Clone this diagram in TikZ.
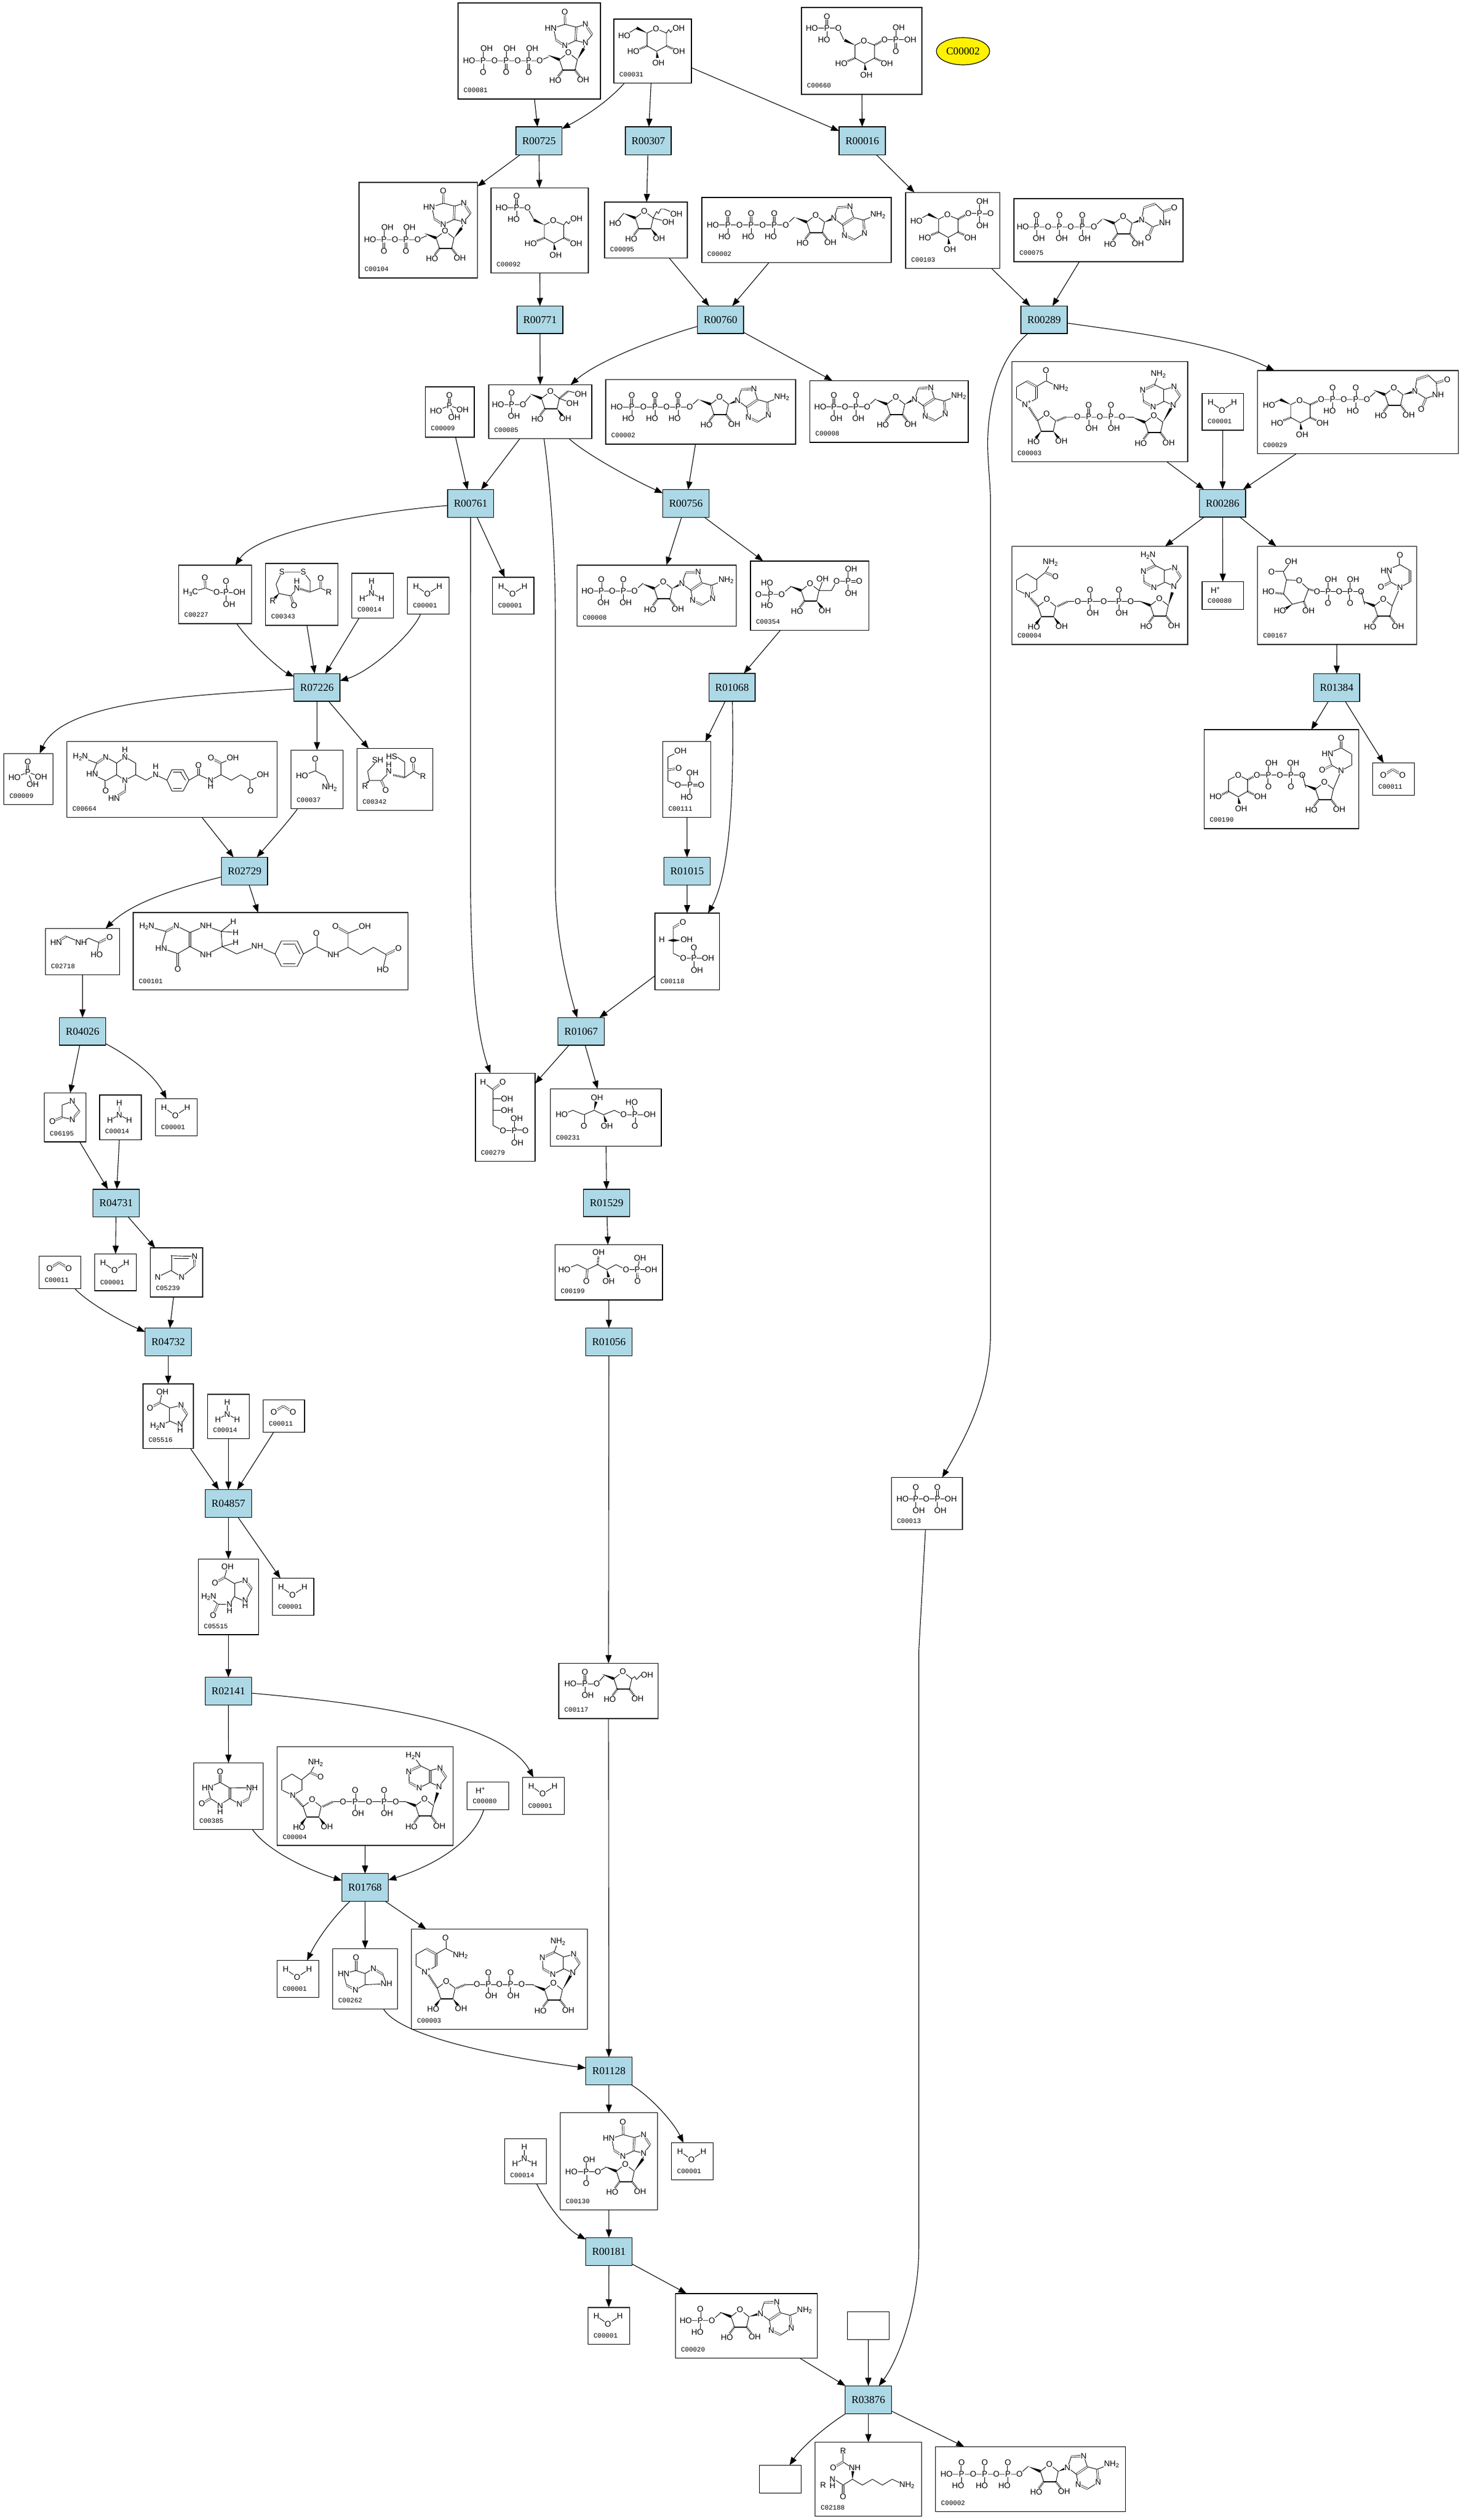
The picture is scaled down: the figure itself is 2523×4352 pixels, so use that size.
\documentclass[tikz,border=0pt]{standalone}
\usepackage{fontspec}
\setmainfont{Liberation Sans}
\newfontfamily\rfont{Liberation Serif}
\newfontfamily\lfont{Liberation Mono}
\usetikzlibrary{calc,arrows.meta,shapes.geometric}
\definecolor{lb}{HTML}{ADD8E6}
\tikzset{
 atom/.style={inner sep=0.4pt,outer sep=0pt,fill=white,font=\fontsize{14}{14}\selectfont,text=black},
 bond/.style={line width=0.9pt,line cap=round,line join=round},
 dbond/.style={line width=0.7pt,double,double distance=2pt},
 hash/.style={line width=3.5pt,dash pattern=on 1pt off 1.5pt},
 cbox/.style={draw=black,fill=white,line width=1.5pt,inner sep=0pt,outer sep=0pt},
 rbox/.style={draw=black,fill=lb,line width=1.5pt,inner sep=0pt,outer sep=0pt,font=\rfont\fontsize{18.3}{20}\selectfont},
 lab/.style={anchor=west,inner sep=0pt,font=\lfont\fontsize{11.5}{12}\selectfont},
 arr/.style={line width=1.1pt,-{Triangle[length=14pt,width=10.5pt]}}
}
\newcount\atc
\newcommand\At[3]{\global\advance\atc by 1\relax\node[atom] (m\the\atc) at (#1,#2) {#3};}
\newcommand\Bd[1]{\draw[bond] #1;}
\newcommand\Db[1]{\draw[dbond] #1;}
\newcommand\Wd[4]{\fill (#1,#2) -- ($(#3,#4)!2.5pt!90:(#1,#2)$) -- ($(#3,#4)!2.5pt!-90:(#1,#2)$) -- cycle;}
\newcommand\Hs[4]{\draw[hash] (#1,#2) -- (#3,#4);}
\newcommand\Sb[1]{\raisebox{-2.5pt}{\fontsize{10}{10}\selectfont #1}}
\newcommand\NHt{NH\Sb{2}}
\newcommand\Cmp[7]{\node[cbox,minimum width={(#4-#2)*1pt},minimum height={(#5-#3)*1pt}] (#1) at ({(#2+#4)/2},{(#3+#5)/2}) {};
 \begin{scope}[shift={(#2,#3)}]#7
 \global\advance\atc by 1\relax\node[lab] (l\the\atc) at (9.5,{#5-#3-15}) {#6};\end{scope}}
\newcommand\Rn[6]{\node[rbox,minimum width={(#4-#2)*1pt},minimum height={(#5-#3)*1pt}] (#1) at ({(#2+#4)/2},{(#3+#5)/2}) {#6};}
\newcommand\Blank[5]{\node[cbox,minimum width={(#4-#2)*1pt},minimum height={(#5-#3)*1pt}] (#1) at ({(#2+#4)/2},{(#3+#5)/2}) {};}
% phosphate with =O up
\newcommand\PP[4]{\begin{scope}[shift={(#1,#2)}]\Bd{(0,0)--(0,17)}\Db{(0,0)--(0,-20)}\At{0}{0}{P}\At{0}{-20}{O}\At{#4}{20}{#3}\end{scope}}
% phosphate with OH up, =O down
\newcommand\PQ[4]{\begin{scope}[shift={(#1,#2)}]\Bd{(0,0)--(0,-17)}\Db{(0,0)--(0,20)}\At{0}{0}{P}\At{0}{20}{O}\At{#4}{-21}{#3}\end{scope}}
% phosphate with up, =O right, down
\newcommand\PR[6]{\begin{scope}[shift={(#1,#2)}]\Bd{(0,0)--(0,-17)}\Bd{(0,0)--(0,17)}\Db{(0,0)--(19,0)}\At{0}{0}{P}\At{19}{0}{O}\At{#4}{-21}{#3}\At{#6}{21}{#5}\end{scope}}
\newcommand\RibCore[4]{\begin{scope}[shift={(#1,#2)}]
 \Bd{(0,0)--(15.5,-12)--(31,0)--(27,18)}\Bd{(6,18)--(0,0)}\draw[line width=2pt](6,18)--(27,18);
 #3{6}{18}{-3}{30}#4{27}{18}{36}{30}
 \At{15.5}{-12}{O}\At{-7}{36}{HO}\At{41}{35}{OH}\end{scope}}
\newcommand\Rib[4]{\begin{scope}[shift={(#1,#2)}]\Wd{-20}{-8}{0}{0}\end{scope}\RibCore{#1}{#2}{#3}{#4}}
\newcommand\Ade[2]{\begin{scope}[shift={(#1,#2)}]
 \Bd{(0,0)--(6.4,-19)}\Db{(6.4,-19)--(28,-20)}\Bd{(28,-20)--(34.4,-1.3)--(51,3)}\Db{(34.4,-1.3)--(15.3,11.5)}\Bd{(15.3,11.5)--(0,0)}
 \Db{(51,3)--(53,25.5)}\Bd{(53,25.5)--(35,37)}\Db{(35,37)--(18.5,29.3)}\Bd{(18.5,29.3)--(15.3,11.5)}\Bd{(51,3)--(72,-5)}
 \At{0}{0}{N}\At{28}{-20}{N}\At{53}{25.5}{N}\At{18.5}{29.3}{N}\At{76}{-6}{\NHt}\end{scope}}
\newcommand\AdeInv[5]{\begin{scope}[shift={(#1,#2)}]
 \Bd{(0,0)--(12.2,-15.8)}\Db{(12.2,-15.8)--(1.6,-32)}\Bd{(1.6,-32)--(-15.4,-27.5)}\Db{(-15.4,-27.5)--(-15.4,-7)}\Bd{(-15.4,-7)--(0,0)}
 \Bd{(-15.4,-7)--(-34.4,2.5)}\Db{(-34.4,2.5)--(-51.4,-7)}\Bd{(-51.4,-7)--(-52.4,-26)}\Db{(-52.4,-26)--(-32,-35.7)}\Bd{(-32,-35.7)--(-15.4,-27.5)}\Bd{(-32,-35.7)--(#3,#4)}
 \At{0}{0}{N}\At{1.6}{-32}{N}\At{-34.4}{2.5}{N}\At{-52.4}{-26}{N}\At{#3}{#4}{#5}\end{scope}}
\newcommand\Hyp[2]{\begin{scope}[shift={(#1,#2)}]
 \Bd{(0,0)--(11.7,-14)}\Db{(11.7,-14)--(0,-32)}\Bd{(0,-32)--(-16,-27)}\Db{(-16,-27)--(-17,-4)}\Bd{(-17,-4)--(0,0)}\Bd{(-16,-27)--(-35.2,-32)}
 \Db{(-35.2,-32)--(-35.7,-53.7)}\Bd{(-35.2,-32)--(-55,-25.6)--(-51,-5)}\Db{(-51,-5)--(-35.7,5)}\Bd{(-35.7,5)--(-17,-4)}
 \At{0}{0}{N}\At{0}{-32}{N}\At{-35.7}{-53.7}{O}\At{-60}{-25.6}{HN}\At{-35.7}{5}{N}\end{scope}}
\newcommand\Ura[2]{\begin{scope}[shift={(#1,#2)}]
 \Bd{(0,0)--(3.3,-21)}\Db{(3.3,-21)--(23.3,-27.7)}\Bd{(23.3,-27.7)--(37.3,-14.7)}\Db{(37.3,-14.7)--(56,-20.7)}\Bd{(37.3,-14.7)--(38.3,5.3)--(19,12)--(0,0)}\Db{(19,12)--(11,31)}
 \At{0}{0}{N}\At{56}{-20.7}{O}\At{40}{5.3}{NH}\At{11}{31}{O}\end{scope}}
\newcommand\Hexb[2]{\begin{scope}[shift={(#1,#2)}]
 \Bd{(0,0)--(15.3,-7.5)--(33.6,0)--(33.6,22.3)--(16.6,31.5)--(0,22.3)--cycle}
 \Hs{0}{22.3}{-14}{28}\Hs{33.6}{22.3}{46}{28}\Wd{16.6}{31.5}{18}{43}
 \At{15.3}{-7.5}{O}\At{-23.6}{32}{HO}\At{55}{32}{OH}\At{19.6}{52}{OH}\end{scope}}
\newcommand\Hexa[2]{\begin{scope}[shift={(#1,#2)}]\Wd{0}{0}{-18}{-8.7}\end{scope}\Hexb{#1}{#2}}
% ---- small molecules
\newcommand\MW{\Bd{(14.7,15.3)--(34.4,28.7)--(55,15.3)}\At{14.7}{15.3}{H}\At{34.4}{28.7}{O}\At{55}{15.3}{H}}
\newcommand\MN{\Bd{(34,14)--(34,34.4)--(18,43.4)}\Bd{(34,34.4)--(51,43.4)}\At{34}{14}{H}\At{34}{34.4}{N}\At{18}{43.4}{H}\At{51}{43.4}{H}}
\newcommand\MCO{\Db{(18,21)--(34.4,11)}\Db{(34.4,11)--(51,21)}\At{18}{21}{O}\At{51}{21}{O}}
\newcommand\MH{\At{23}{14.7}{H\textsuperscript{+}}}
\newcommand\MPi{\Db{(41.5,32.5)--(41.5,14.7)}\Bd{(18.5,41.5)--(41.5,32.5)--(64.3,40)}\Bd{(41.5,32.5)--(50,53)}\At{41.5}{32.5}{P}\At{41.5}{14.7}{O}\At{18.5}{41.5}{HO}\At{64.3}{40}{OH}\At{50}{53}{OH}}
% ---- nucleotides
\newcommand\MATP{\Bd{(19,47.5)--(145,47.5)--(160,34)}\PP{45}{47.5}{HO}{-6}\PP{85}{47.5}{HO}{-5}\PP{125}{47.5}{HO}{-6}\At{19}{47.5}{HO}\At{65}{47.5}{O}\At{105}{47.5}{O}\At{145}{47.5}{O}\Rib{181}{42.5}{\Hs}{\Hs}\Wd{212}{42.5}{228}{36}\Ade{228}{36}}
\newcommand\MADP{\Bd{(18,45)--(99,45)--(113.7,31.5)}\PP{41.6}{45}{OH}{4}\PP{79.8}{45}{OH}{4}\At{18}{45}{HO}\At{60.7}{45}{O}\At{99}{45}{O}\Rib{133}{40.5}{\Hs}{\Hs}\Wd{164}{40.5}{181}{32}\Ade{181}{32}}
\newcommand\MAMP{\Bd{(18,46.5)--(63,46.5)--(79,33)}\PP{43}{46.5}{HO}{-5}\At{18}{46.5}{HO}\At{63}{46.5}{O}\Rib{96}{40}{\Hs}{\Hs}\Wd{127}{40}{147}{34.7}\Ade{147}{34.7}}
\newcommand\MITP{\Bd{(19,100)--(141,100)--(156,93.4)}\PQ{43.4}{100}{OH}{6}\PQ{83}{100}{OH}{6}\PQ{122}{100}{OH}{6}\At{19}{100}{HO}\At{63}{100}{O}\At{103}{100}{O}\At{141}{100}{O}\Rib{175}{98}{\Hs}{\Hs}\Wd{206}{98}{217}{79}\Bd{(217,79)--(220,69)}\Hyp{220}{69}}
\newcommand\MIDP{\Bd{(19,99)--(101.4,99)--(117,92)}\PQ{43}{99}{OH}{6}\PQ{81}{99}{OH}{6}\At{19}{99}{HO}\At{62}{99}{O}\At{101.4}{99}{O}\Rib{133}{96}{\Hs}{\Hs}\Wd{164}{96}{177}{79}\Bd{(177,79)--(181,68)}\Hyp{181}{68}}
\newcommand\MIMP{\Bd{(19.4,102)--(65.3,102)--(79,94.4)}\PQ{45}{102}{OH}{5}\At{19.4}{102}{HO}\At{65.3}{102}{O}\Rib{97}{101}{\Hs}{\Hs}\Wd{128}{101}{143}{80}\Bd{(143,80)--(144,70)}\Hyp{144}{70}}
\newcommand\MUTP{\Bd{(15.3,49)--(138,49)--(152,36)}\PP{39}{49}{OH}{4}\PP{78.5}{49}{OH}{4}\PP{118}{49}{OH}{4}\At{15.3}{49}{HO}\At{59}{49}{O}\At{98}{49}{O}\At{138}{49}{O}\Rib{173}{42.5}{\Hs}{\Hs}\Wd{204}{42.5}{220.7}{36.7}\Ura{220.7}{36.7}}
\newcommand\MUDPG{\Bd{(19.8,60)--(40,50)}\Hexa{57.4}{58.7}\Hs{91}{58.7}{110}{50}\Bd{(110,50)--(189,50)--(203,37.6)}\PP{129.6}{50}{HO}{-5}\PP{169.6}{50}{HO}{-5}\At{19.8}{60}{HO}\At{110}{50}{O}\At{149}{50}{O}\At{189}{50}{O}\Rib{220}{41.5}{\Hs}{\Hs}\Wd{251}{41.5}{271.7}{36}\Ura{271.7}{36}}
\newcommand\UrTop{\Bd{(179,77.8)--(185,100)}\Rib{201.6}{102.7}{\Hs}{\Hs}\Bd{(232.6,102.7)--(246,70.8)}
 \Bd{(246,70.8)--(230,61.7)--(223,41)--(246,31.7)--(263.3,41.7)}\Db{(263.3,41.7)--(263.3,61.7)}\Bd{(263.3,61.7)--(246,70.8)}\Db{(246,31.7)--(246,15)}\Db{(230,61.7)--(213.3,70)}
 \At{246}{70.8}{N}\At{222.6}{41.7}{HN}\At{246}{15}{O}\At{213.3}{70}{O}}
\newcommand\MUDPGA{\Bd{(50,58)--(72,59)--(88,74)--(80,95)--(60,100)--(45,82)--cycle}\Bd{(50,58)--(44.6,44)--(58,26)}\Db{(44.6,44)--(24.2,44)}\Hs{45}{82}{28}{80}\Hs{88}{74}{102.7}{77.8}\Wd{60}{100}{48}{108}\Hs{80}{95}{84}{106}
 \At{58}{26}{OH}\At{24.2}{44}{O}\At{72}{59}{O}\At{19}{77.8}{HO}\At{38.7}{111.6}{HO}\At{88}{111.6}{OH}
 \Bd{(102.7,77.8)--(179,77.8)}\PQ{121.8}{77.8}{OH}{5}\PQ{160}{77.8}{OH}{5}\At{102.7}{77.8}{O}\At{141}{77.8}{O}\At{179}{77.8}{O}\UrTop}
\newcommand\MUDPX{\Bd{(42.3,86.7)--(59,78.3)--(75,86.7)--(75,106.7)--(59,116)--(42.3,106.7)--cycle}\Hs{42.3}{106.7}{29}{113}\Hs{75}{106.7}{88}{113}\Wd{59}{116}{61}{128}\Hs{75}{86.7}{91.3}{78.3}
 \At{59}{78.3}{O}\At{20}{116}{HO}\At{97.3}{116}{OH}\At{64}{136.7}{OH}
 \Bd{(91.3,78.3)--(169.7,78.3)}\PQ{111.3}{78.3}{OH}{5}\PQ{150}{78.3}{OH}{4}\At{91.3}{78.3}{O}\At{131}{78.3}{O}\At{169.7}{78.3}{O}
 \begin{scope}[shift={(-9.3,0)}]\UrTop\end{scope}}
\newcommand\MNAD{\Bd{(25.5,73)--(9,63.8)--(9,43)}\Bd{(9,43)--(25.5,33.7)}\Db{(25.5,33.7)--(42.3,43)}\Db{(42.3,63.8)--(42.3,43)}\Bd{(42.3,63.8)--(25.5,73)}\Bd{(42.3,43)--(58.7,33.2)--(77,42)}\Db{(58.7,33.2)--(58.7,14.8)}\Db{(9,63.8)--(9,43)}
 \Hs{25.5}{73}{44.4}{102}\At{25.5}{73}{N\textsuperscript{+}}\At{58.7}{14.8}{O}\At{84.2}{44.9}{\NHt}
 \RibCore{44.4}{102}{\Wd}{\Wd}\Hs{77.6}{102}{94}{95.4}
 \Bd{(94,95.4)--(190,95.4)--(210.7,95.4)}\PP{132.6}{95.4}{OH}{5}\PP{171}{95.4}{OH}{5}\At{112.8}{95.4}{O}\At{151.7}{95.4}{O}\At{190}{95.4}{O}
 \Rib{229.6}{104.6}{\Hs}{\Hs}\Wd{260.6}{104.6}{276}{78}\AdeInv{278.4}{75.5}{-25.7}{-54}{\NHt}}
\newcommand\MNADH{\Bd{(27,84)--(9,75.5)}\Db{(9,75.5)--(9,57.6)}\Bd{(9,57.6)--(25.5,47.4)--(41.8,57.6)}\Db{(41.8,57.6)--(41.8,75.5)}\Bd{(41.8,75.5)--(27,84)}\Bd{(41.8,57.6)--(57.6,44.9)--(66.3,30)}\Db{(57.6,44.9)--(75,52.6)}
 \Hs{27}{84}{44.9}{103.6}\At{27}{84}{N}\At{75}{52.6}{O}\At{66.3}{27.9}{\NHt}
 \RibCore{44.9}{103.6}{\Wd}{\Wd}\Hs{79}{103.6}{97}{94.9}
 \Bd{(97,94.9)--(222,94.9)}\PP{134.7}{94.9}{OH}{5}\PP{184.7}{94.9}{OH}{5}\At{113.8}{94.9}{O}\At{158.6}{94.9}{O}\At{205}{94.9}{O}
 \Rib{239}{102}{\Hs}{\Hs}\Wd{270}{102}{277}{79.6}\AdeInv{279.6}{68.9}{-44.6}{-53}{H\Sb{2}N}}
% ---- sugars
\newcommand\MGlc{\Bd{(18,28.7)--(39,16)}\Hexa{57.4}{24}\Bd{(91,24)--(95,18)--(98,23)--(103,17)}\At{18}{28.7}{HO}\At{112}{15.7}{OH}}
\newcommand\MGsP{\Bd{(18.4,34.4)--(63,34.4)--(74,55)}\PP{44}{34.4}{HO}{-5}\At{18.4}{34.4}{HO}\At{63}{34.4}{O}\Hexa{92}{64}\Bd{(125.6,64)--(130,58)--(134,62)--(138,56)}\At{147.5}{53.6}{OH}}
\newcommand\MGxx{\Bd{(18,35.6)--(63.8,35.6)--(73,55.5)}\PP{44}{35.6}{HO}{-5}\At{18}{35.6}{HO}\At{63.8}{35.6}{O}\Hexa{92.5}{65}\Hs{126}{65}{143.5}{55.5}\Bd{(143.5,55.5)--(188,55.5)}\PQ{163}{55.5}{OH}{5}\At{143.5}{55.5}{O}\At{188}{55.5}{OH}}
\newcommand\MGoP{\Bd{(18.5,49)--(39,38)}\Hexa{56.8}{46}\Hs{90.4}{46}{108.4}{35.7}\Bd{(108.4,35.7)--(127.5,35.7)}\PR{127.5}{35.7}{OH}{5}{OH}{5}\At{18.5}{49}{HO}\At{108.4}{35.7}{O}}
\newcommand\MFru{\Bd{(18.5,37)--(33,19.5)}\Bd{(84,27.5)--(110,34.4)}\Bd{(84,27.5)--(90,16)--(93,20)--(97,12)--(103,12)--(124,20.7)}\Rib{53}{27.5}{\Hs}{\Wd}\At{18.5}{37}{HO}\At{110}{34.4}{OH}\At{124}{20.7}{OH}}
\newcommand\MFsP{\Bd{(16,34.4)--(59,34.4)--(72,19)}\PP{39.5}{34.4}{OH}{4}\At{16}{34.4}{HO}\At{59}{34.4}{O}\Bd{(122,23.6)--(144.7,32)}\Hs{122}{23.6}{137}{11}\Bd{(137,11)--(159,16)}\Rib{91}{23.6}{\Hs}{\Wd}\At{144.7}{32}{OH}\At{159}{16}{OH}}
\newcommand\MFBP{\Db{(14,57.4)--(35,57.4)}\Bd{(35,57.4)--(54,57.4)--(70,44.6)}\Bd{(35,57.4)--(30,42)}\Bd{(35,57.4)--(30,72)}\At{35}{57.4}{P}\At{14}{57.4}{O}\At{28.7}{38}{HO}\At{28.7}{77}{HO}\At{54}{57.4}{O}
 \Bd{(118.6,51)--(124.6,35)}\Bd{(118.6,51)--(140,51)--(149,35)--(169,35)}\Rib{87.6}{51}{\Hs}{\Wd}\PR{169}{35}{OH}{5}{OH}{5}\At{124.6}{31}{OH}\At{149}{35}{O}}
\newcommand\MRibP{\Bd{(20,35.7)--(65.6,35.7)--(78.4,21.5)}\PP{45}{35.7}{OH}{5}\At{20}{35.7}{HO}\At{65.6}{35.7}{O}\Bd{(126,26.7)--(131,23)--(134,28)--(142,20)}\Rib{95}{26.7}{\Hs}{\Hs}\At{152.4}{20}{OH}}
% ---- others
\newcommand\MAcP{\Bd{(20.4,47)--(46,39.6)--(65.3,47)}\Db{(46,39.6)--(45,22)}\Bd{(65.3,47)--(81.6,47)}\Bd{(81.6,47)--(104.6,47)}\Bd{(81.6,47)--(81.6,67)}\Db{(81.6,47)--(81.6,27.6)}\At{20.4}{47}{H\Sb{3}C}\At{45}{22}{O}\At{65.3}{47}{O}\At{81.6}{47}{P}\At{81.6}{27.6}{O}\At{104.6}{47}{OH}\At{87}{67.8}{OH}}
\newcommand\MGSH{\Bd{(36,20.4)--(18.5,39.5)--(21.7,55.5)}\Wd{21.7}{55.5}{16}{62}\Bd{(21.7,55.5)--(42,55.5)--(55,42)}\Db{(42,55.5)--(49.7,72)}\Hs{63}{46}{82.6}{50.4}\Bd{(82.6,50.4)--(82.6,23.6)--(68,14)}\Bd{(82.6,50.4)--(98.4,39.5)--(114,48.5)}\Db{(98.4,39.5)--(97,20.4)}
 \At{36}{20.4}{SH}\At{14}{65}{R}\At{49.7}{72}{O}\At{55}{28.7}{H}\At{55}{39.5}{N}\At{60}{14}{HS}\At{97}{20.4}{O}\At{114}{48.5}{R}}
\newcommand\MGSS{\Bd{(28,15)--(18,36)--(23,52)}\Wd{23}{52}{16}{60}\Bd{(23,52)--(43.4,56)--(54,44)}\Db{(43.4,56)--(49,73)}\Hs{60}{44}{77}{49.3}\Bd{(77,49.3)--(77,30)--(65,15)--(28,15)}\Bd{(77,49.3)--(94.9,42.6)--(109,49.3)}\Db{(94.9,42.6)--(95,26)}
 \At{28}{15}{S}\At{65}{15}{S}\At{12.2}{65}{R}\At{49}{73}{O}\At{54}{30.6}{H}\At{54}{42.6}{N}\At{95}{26}{O}\At{109}{49.3}{R}}
\newcommand\MFTHF{\Bd{(23.5,26.8)--(52,37.5)}\Db{(52,37.5)--(67.3,26.8)}\Bd{(67.3,26.8)--(86,37.5)--(86,57.6)--(67.3,67.9)--(44,56.7)--(52,37.5)}\Db{(67.3,67.9)--(67.3,85.7)}
 \Bd{(86,37.5)--(100.5,26.8)--(119,37.5)--(119,57.6)--(100.5,67)--(86,57.6)}\Bd{(100.5,67)--(101.5,85.7)}\Db{(101.5,85.7)--(81.6,97.8)}\Bd{(100.5,26.8)--(100.5,14.3)}\Bd{(119,57.6)--(137,67)--(153.6,57.6)--(173,67)}
 \Bd{(173,67)--(181.6,48.7)--(201,48.7)--(211,67)--(201,85.7)--(181.6,85.7)--cycle}\Bd{(184,53)--(198,53)}\Bd{(184,81)--(198,81)}\Bd{(205,67)--(197,54)}
 \Bd{(211,67)--(227.6,57.6)--(248.5,67)--(266.3,57.6)--(284,67)--(300.6,57.6)--(317.3,67)--(338.8,57.6)}\Db{(227.6,57.6)--(227.6,41)}\Bd{(266.3,57.6)--(266.3,37.5)--(286.7,28.6)}\Db{(266.3,37.5)--(249,28.6)}\Db{(317.3,67)--(317.3,85.7)}
 \At{23.5}{26.8}{H\Sb{2}N}\At{67.3}{26.8}{N}\At{44}{56.7}{HN}\At{67.3}{85.7}{O}\At{100.5}{14.3}{H}\At{100.5}{26.8}{N}\At{100.5}{67}{N}\At{81.6}{97.8}{HN}\At{153.6}{43.3}{H}\At{153.6}{57.6}{N}\At{227.6}{41}{O}\At{248.5}{76.8}{H}\At{248.5}{67}{N}\At{249}{28.6}{O}\At{286.7}{28.6}{OH}\At{338.8}{57.6}{OH}\At{317.3}{85.7}{O}}
\newcommand\MGly{\Bd{(19,44.6)--(41.8,35.7)--(58.7,44.6)--(66,62)}\Db{(41.8,35.7)--(41.8,14.7)}\At{41.8}{14.7}{O}\At{19}{44.6}{HO}\At{66.3}{64.7}{\NHt}}
\newcommand\MTHF{\Bd{(23.5,23.6)--(56.7,32.5)}\Db{(56.7,32.5)--(74.6,23)}\Bd{(74.6,23)--(98,34.4)}\Db{(98,34.4)--(98,58.7)}\Bd{(98,58.7)--(77,70.8)--(48.5,61.2)--(56.7,32.5)}\Db{(77,70.8)--(77,97.5)}
 \Bd{(98,34.4)--(125.5,23)--(152,32.5)--(153.7,58.7)--(125.5,72.7)--(98,58.7)}\Bd{(152,32.5)--(173,15.3)}\Bd{(152,32.5)--(177,34.4)}\Bd{(153.7,58.7)--(177,52)}
 \Bd{(153.7,58.7)--(178.6,71.4)--(214.3,58)--(245,71.4)}\Bd{(245,71.4)--(256,49)--(283.3,49)--(294,71.4)--(283.3,93)--(256,93)--cycle}\Bd{(259,54)--(280,54)}\Bd{(259,88)--(280,88)}\Bd{(288,71.4)--(280,56)}
 \Bd{(294,71.4)--(316.3,58.7)--(345.7,72.7)--(371,60)--(393.5,72.7)--(415,60)--(437,72.7)--(431,98.9)}\Db{(316.3,58.7)--(316.3,35.7)}\Bd{(371,60)--(371,35.7)--(400,23.6)}\Db{(371,35.7)--(349.4,23.6)}\Db{(437,72.7)--(458,61.9)}
 \At{23.5}{23.6}{H\Sb{2}N}\At{74.6}{23}{N}\At{125.5}{23}{NH}\At{173}{15.3}{H}\At{177}{34.4}{H}\At{177}{52}{H}\At{125.5}{72.7}{NH}\At{77}{97.5}{O}\At{48.5}{61.2}{HN}\At{214.3}{58}{NH}\At{316.3}{35.7}{O}\At{345.7}{72.7}{NH}\At{349.4}{23.6}{O}\At{400}{23.6}{OH}\At{458}{61.9}{O}\At{431}{98.9}{HO}}
\newcommand\MFIG{\Db{(18.5,24.2)--(36,13.4)}\Bd{(36,13.4)--(61.8,24.2)--(74.6,16.6)--(92.4,24.2)--(88.6,45.3)}\Db{(92.4,24.2)--(110.9,14.7)}\At{18.5}{24.2}{HN}\At{61.8}{24.2}{NH}\At{110.9}{14.7}{O}\At{88.6}{45.3}{HO}}
\newcommand\MImO{\Bd{(48.5,14.7)--(30.6,21)--(30.6,42)--(48.5,46)}\Db{(48.5,46)--(60.7,31)}\Bd{(60.7,31)--(48.5,14.7)}\Db{(30.6,42)--(14,49)}\At{48.5}{14.7}{N}\At{14}{49}{O}\At{48.5}{46}{N}}
\newcommand\MAIm{\Bd{(76.5,14.7)--(35.7,13.4)}\Db{(35.7,13.4)--(35.7,39)}\Bd{(41,18)--(66,18)}\Bd{(35.7,39)--(54,50)--(76,32)}\Db{(76,32)--(76.5,14.7)}\Bd{(35.7,39)--(12.8,50)}\At{76.5}{14.7}{N}\At{54}{50}{N}\At{12.8}{50}{N}}
\newcommand\MCAIR{\Bd{(33.8,13.4)--(29,32.5)--(46.9,41.5)}\Db{(29,32.5)--(12.2,41.5)}\Bd{(46.9,41.5)--(66,37)}\Db{(66,37)--(76.5,53)}\Bd{(76.5,53)--(64.3,72)--(46.9,64.3)}\Db{(46.9,64.3)--(46.9,41.5)}\Bd{(46.9,64.3)--(25.5,73.3)}\At{33.8}{13.4}{OH}\At{12.2}{41.5}{O}\At{66}{37}{N}\At{64.3}{79.7}{H}\At{64.3}{70}{N}\At{25.5}{73.3}{H\Sb{2}N}}
\newcommand\MAICAR{\Bd{(50.4,12.8)--(45.3,31.9)--(61.9,42)}\Db{(45.3,31.9)--(28.7,40.8)}\Bd{(61.9,42)--(81,37)}\Db{(81,37)--(92.4,51)}\Bd{(92.4,51)--(81,73.3)--(61.9,64.8)}\Db{(61.9,64.8)--(61.9,42)}\Bd{(61.9,64.8)--(54,78.4)--(33.8,77.8)--(18,65)}\Db{(33.8,77.8)--(25.5,96.9)}
 \At{50.4}{12.8}{OH}\At{28.7}{40.8}{O}\At{81}{37}{N}\At{81}{80}{H}\At{81}{71}{N}\At{54}{78.4}{N}\At{54}{89}{H}\At{18}{65}{H\Sb{2}N}\At{25.5}{96.9}{O}}
\newcommand\MXan{\Db{(45.4,33.7)--(45.4,14.8)}\Bd{(45.4,33.7)--(24,42.9)--(29,61.7)--(45.4,72)--(62.2,61.7)}\Db{(29,61.7)--(13.8,70.4)}\Db{(62.2,61.7)--(62.2,43.4)}\Bd{(62.2,43.4)--(45.4,33.7)}\Bd{(62.2,43.4)--(100.5,42.9)--(95,61.7)}\Db{(95,61.7)--(78.6,70.9)}\Bd{(78.6,70.9)--(62.2,61.7)}
 \At{45.4}{14.8}{O}\At{24}{42.9}{HN}\At{13.8}{70.4}{O}\At{45.4}{84}{H}\At{45.4}{74}{N}\At{100.5}{42.9}{NH}\At{78.6}{70.9}{N}}
\newcommand\MHyp{\Db{(40.3,37.8)--(40.3,15.3)}\Bd{(40.3,37.8)--(18.9,42.9)--(24,63.3)}\Db{(24,63.3)--(39.3,70.9)}\Bd{(39.3,70.9)--(56,62.2)--(92.9,60.7)}\Bd{(56,62.2)--(56,42.9)--(40.3,37.8)}\Bd{(56,42.9)--(70.4,34.2)}\Db{(70.4,34.2)--(86.7,44.4)}\Bd{(86.7,44.4)--(92.9,60.7)}
 \At{40.3}{15.3}{O}\At{18.9}{42.9}{HN}\At{39.3}{70.9}{N}\At{70.4}{34.2}{N}\At{92.9}{60.7}{NH}}
\newcommand\MDHAP{\Bd{(30.6,16)--(8.9,26.8)--(8.9,68.2)--(26,75.3)--(47.2,75.3)}\Db{(8.9,49)--(27.4,45.9)}\PR{47.2}{75.3}{OH}{4}{HO}{-6}\At{30.6}{16}{OH}\At{27.4}{45.9}{O}\At{26}{75.3}{O}}
\newcommand\MGAP{\Db{(31.9,24.9)--(48.5,15.3)}\Bd{(31.9,24.9)--(31.9,69.5)--(49,77.8)--(91.8,77.8)}\Wd{22}{47}{31.9}{47}\Wd{44}{47}{31.9}{47}\Bd{(67.6,77.8)--(67.6,95)}\Db{(67.6,77.8)--(67.6,59.3)}\At{48.5}{15.3}{O}\At{12}{46}{H}\At{55}{46}{OH}\At{49}{77.8}{O}\At{67.6}{77.8}{P}\At{67.6}{59.3}{O}\At{91.8}{77.8}{OH}\At{72.7}{98.2}{OH}}
\newcommand\MEry{\Bd{(13.4,15.3)--(30.6,28)--(30.6,90)--(47.8,98.9)--(67.6,98.9)}\Db{(30.6,28)--(47.2,15.3)}\Bd{(30.6,44)--(54.8,44)}\Bd{(30.6,63.8)--(54.8,63.8)}\PR{67.6}{98.9}{OH}{4}{OH}{5}\At{13.4}{15.3}{H}\At{47.2}{15.3}{O}\At{54.8}{44}{OH}\At{54.8}{63.8}{OH}\At{47.8}{98.9}{O}}
\newcommand\MXuP{\Bd{(19.8,44.6)--(39,37)--(58,44.6)--(75.5,37)--(92,44.6)--(110.5,37)--(126.5,44.6)--(171.7,44.6)}\Db{(58,44.6)--(58,64.4)}\Wd{75.5}{37}{79}{22}\Wd{92}{44.6}{96}{57}\Bd{(146,44.6)--(141,27)}\Db{(146,44.6)--(146,64.4)}
 \At{19.8}{44.6}{HO}\At{58}{64.4}{O}\At{80.6}{14.7}{OH}\At{97.7}{64.4}{OH}\At{126.5}{44.6}{O}\At{146}{44.6}{P}\At{140.6}{23.6}{HO}\At{171.7}{44.6}{OH}\At{146}{64.4}{O}}
\newcommand\MRuP{\Bd{(16,43)--(38.3,34.4)--(55.5,43)--(73.4,34.4)--(89.3,43)--(105,34.4)--(122.4,43)--(165.8,43)}\Db{(55.5,43)--(54,63)}\Hs{73.4}{34.4}{75}{20}\Wd{89.3}{43}{92.4}{56}\Bd{(142,43)--(146,26)}\Db{(142,43)--(142.4,63)}
 \At{16}{43}{HO}\At{54}{63}{O}\At{75}{13.4}{OH}\At{92.4}{63}{OH}\At{122.4}{43}{O}\At{142}{43}{P}\At{146.7}{23}{OH}\At{165.8}{43}{OH}\At{142.4}{63}{O}}
\newcommand\MPPi{\Bd{(19.4,37.2)--(102.6,37.2)}\PP{42.3}{37.2}{OH}{5}\PP{79.6}{37.2}{OH}{5}\At{19.4}{37.2}{HO}\At{60.2}{37.2}{O}\At{102.6}{37.2}{OH}}
\newcommand\MLys{\At{48.2}{14.8}{R}\Bd{(48.2,18)--(48.2,34)--(60,42)}\Db{(48.2,34)--(31,44.4)}\Wd{64.3}{64}{65}{50}\Bd{(64.3,64)--(48.2,74)--(36,66)}\Db{(48.2,74)--(48.2,93.7)}\Bd{(64.3,64)--(81.6,74)--(98.9,64)--(116,74)--(133,64)--(148,71)}
 \At{31}{44.4}{O}\At{68.3}{44.4}{NH}\At{30}{74.6}{H}\At{30}{64}{N}\At{13.8}{73.6}{R}\At{48.2}{93.7}{O}\At{158.4}{74}{\NHt}}
\begin{document}
\begin{tikzpicture}[x=1pt,y=-1pt]
\useasboundingbox (0,0) rectangle (2523,4352);
\fill[white] (0,0) rectangle (2523,4352);
% ---------- reactions
\Rn{r725}{891}{219}{970.5}{267.5}{R00725}
\Rn{r307}{1080}{219}{1159}{267.5}{R00307}
\Rn{r016}{1449}{219}{1529}{267.5}{R00016}
\Rn{r771}{893}{528.5}{972}{576}{R00771}
\Rn{r760}{1204.6}{528.5}{1284}{576}{R00760}
\Rn{r289}{1763}{528.5}{1843}{576}{R00289}
\Rn{r761}{773}{845.7}{852.5}{893.5}{R00761}
\Rn{r756}{1144.6}{845.7}{1224.4}{893.5}{R00756}
\Rn{r286}{2071.5}{845.3}{2151}{893}{R00286}
\Rn{r7226}{507.7}{1163.4}{587}{1211}{R07226}
\Rn{r1068}{1224.4}{1163}{1304}{1211}{R01068}
\Rn{r1384}{2268.5}{1163.5}{2348}{1211.4}{R01384}
\Rn{r1015}{1146.7}{1480.6}{1226.4}{1528.4}{R01015}
\Rn{r2729}{382.7}{1480.4}{462.2}{1528.6}{R02729}
\Rn{r4026}{102.7}{1757.3}{182.4}{1805}{R04026}
\Rn{r1067}{963.7}{1757.4}{1043.4}{1805.2}{R01067}
\Rn{r4731}{160.7}{2053.8}{240.4}{2101.7}{R04731}
\Rn{r1529}{1007.7}{2054}{1087.4}{2101.2}{R01529}
\Rn{r4732}{250.6}{2293.6}{330.4}{2341.4}{R04732}
\Rn{r1056}{1011.7}{2293.4}{1091.3}{2341.3}{R01056}
\Rn{r4857}{354.6}{2572.6}{434.3}{2620.4}{R04857}
\Rn{r2141}{354.6}{2896.6}{434.3}{2944.4}{R02141}
\Rn{r1768}{590.3}{3235.7}{670.4}{3283.7}{R01768}
\Rn{r1128}{1011.7}{3552.6}{1091.3}{3600.5}{R01128}
\Rn{r181}{1011.7}{3864.3}{1091.3}{3912.3}{R00181}
\Rn{r3876}{1459.4}{4120.4}{1539.7}{4168.3}{R03876}
\node[draw=black,fill=yellow,ellipse,line width=1.2pt,minimum width=92pt,minimum height=47pt,inner sep=0pt,font=\rfont\fontsize{18.3}{20}\selectfont] (yel) at (1663,88.5) {C00002};
% ---------- compounds
\Cmp{c81}{791}{5}{1037}{171}{C00081}{\MITP}
\Cmp{c31}{1060}{33}{1194}{143.5}{C00031}{\MGlc}
\Cmp{c660}{1384}{13}{1592}{163}{C00660}{\MGxx}
\Cmp{c104}{620}{315}{824.5}{480}{C00104}{\MIDP}
\Cmp{c92}{848}{324.5}{1016}{471.5}{C00092}{\MGsP}
\Cmp{c95}{1044}{349}{1187}{445.5}{C00095}{\MFru}
\Cmp{c2a}{1212}{341}{1539}{453.5}{C00002}{\MATP}
\Cmp{c103}{1564}{332.5}{1726.5}{463.5}{C00103}{\MGoP}
\Cmp{c75}{1751}{343}{2043}{452}{C00075}{\MUTP}
\Cmp{c9a}{734.5}{668}{819}{755}{C00009}{\MPi}
\Cmp{c85}{844}{664.5}{1022}{757.6}{C00085}{\MFsP}
\Cmp{c2b}{1046}{655.6}{1374}{767}{C00002}{\MATP}
\Cmp{c8a}{1398.5}{657.5}{1672}{764}{C00008}{\MADP}
\Cmp{c3a}{1747.5}{624.6}{2051}{797.4}{C00003}{\MNAD}
\Cmp{c1a}{2076}{679.5}{2147.4}{743}{C00001}{\MW}
\Cmp{c29}{2171.6}{640}{2518.5}{783.4}{C00029}{\MUDPG}
\Cmp{c227}{308.7}{976}{434.7}{1077}{C00227}{\MAcP}
\Cmp{c343}{458.7}{973}{583.7}{1080}{C00343}{\MGSS}
\Cmp{c14a}{607.6}{990}{679.6}{1067.4}{C00014}{\MN}
\Cmp{c1b}{703.6}{997}{775.4}{1060.6}{C00001}{\MW}
\Cmp{c1c}{850.6}{997}{922}{1060.6}{C00001}{\MW}
\Cmp{c8b}{996.7}{975.8}{1271.6}{1081.6}{C00008}{\MADP}
\Cmp{c354}{1295.8}{968.8}{1500.5}{1088.7}{C00354}{\MFBP}
\Cmp{c4a}{1747.5}{943.5}{2051}{1113}{C00004}{\MNADH}
\Cmp{c80a}{2076}{1004.7}{2147.4}{1052.6}{C00080}{\MH}
\Cmp{c167}{2171.6}{943.5}{2446.5}{1113}{C00167}{\MUDPGA}
\Cmp{c190}{2079.3}{1260}{2346.7}{1431}{C00190}{\MUDPX}
\Cmp{c11a}{2370.7}{1317.7}{2442.7}{1373.3}{C00011}{\MCO}
\Cmp{c9b}{6.6}{1301.3}{91.3}{1389.3}{C00009}{\MPi}
\Cmp{c664}{115.3}{1280.4}{478.6}{1411.6}{C00664}{\MFTHF}
\Cmp{c37}{502.6}{1295.5}{592.3}{1396.4}{C00037}{\MGly}
\Cmp{c342}{616.3}{1292.4}{747.4}{1399.6}{C00342}{\MGSH}
\Cmp{c111}{1144.6}{1280.6}{1227.6}{1411.4}{C00111}{\MDHAP}
\Cmp{c118}{1130.8}{1577}{1242.4}{1709.6}{C00118}{\MGAP}
\Cmp{c2718}{78.4}{1603.6}{206.6}{1683.3}{C02718}{\MFIG}
\Cmp{c101}{230}{1576}{704.7}{1709.4}{C00101}{\MTHF}
\Cmp{c279}{820.8}{1853.6}{924}{2005.4}{C00279}{\MEry}
\Cmp{c231}{950.3}{1880.5}{1142.2}{1979.3}{C00231}{\MXuP}
\Cmp{c6195}{76.5}{1887.4}{148.6}{1972.2}{C06195}{\MImO}
\Cmp{c14b}{172}{1891}{244}{1968.4}{C00014}{\MN}
\Cmp{c1d}{268.5}{1897.6}{340.6}{1961.3}{C00001}{\MW}
\Cmp{c199}{958.6}{2149.6}{1144}{2245}{C00199}{\MRuP}
\Cmp{c11b}{67.6}{2169.3}{139.7}{2225.4}{C00011}{\MCO}
\Cmp{c1e}{163.3}{2165.4}{235.3}{2229.2}{C00001}{\MW}
\Cmp{c5239}{259.6}{2155.2}{350}{2240}{C05239}{\MAIm}
\Cmp{c5516}{246.8}{2390}{334.2}{2501.5}{C05516}{\MCAIR}
\Cmp{c14c}{358.4}{2407.8}{430.5}{2484.3}{C00014}{\MN}
\Cmp{c11c}{454.7}{2417.3}{526}{2473.5}{C00011}{\MCO}
\Cmp{c13}{1539.3}{2551.5}{1662.2}{2641.3}{C00013}{\MPPi}
\Cmp{c5515}{342.5}{2692.5}{446.4}{2823.2}{C05515}{\MAICAR}
\Cmp{c1f}{470.7}{2725.7}{542}{2789.4}{C00001}{\MW}
\Cmp{c117}{965}{2872.4}{1136.7}{2968}{C00117}{\MRibP}
\Cmp{c385}{334.7}{3044.4}{454.6}{3159.7}{C00385}{\MXan}
\Cmp{c4b}{478.6}{3016.3}{782.7}{3187.2}{C00004}{\MNADH}
\Cmp{c80b}{806.6}{3077.6}{878.6}{3125.5}{C00080}{\MH}
\Cmp{c1g}{902.6}{3069.4}{974.5}{3133.7}{C00001}{\MW}
\Cmp{c1h}{478.6}{3385.7}{550.5}{3449.5}{C00001}{\MW}
\Cmp{c262}{574.5}{3365.3}{686.7}{3469.4}{C00262}{\MHyp}
\Cmp{c3b}{710.7}{3331.6}{1014.3}{3504.6}{C00003}{\MNAD}
\Cmp{c14d}{871.4}{3693.4}{943.4}{3771.4}{C00014}{\MN}
\Cmp{c130}{967.3}{3648.5}{1135.7}{3816.3}{C00130}{\MIMP}
\Cmp{c1i}{1159.7}{3700.5}{1231.6}{3764.3}{C00001}{\MW}
\Cmp{c1j}{1015.3}{3984.7}{1087.3}{4048.5}{C00001}{\MW}
\Cmp{c20}{1166.3}{3960.7}{1411.7}{4072.4}{C00020}{\MAMP}
\Blank{blank1}{1463.3}{3992.3}{1535.7}{4040.3}
\Blank{blank2}{1311.3}{4257.4}{1383.6}{4305.3}
\Cmp{c2188}{1407.7}{4217.6}{1591.4}{4345.4}{C02188}{\MLys}
\Cmp{c2c}{1615.5}{4225.4}{1943.3}{4337.3}{C00002}{\MATP}
% ---------- straight connectors
\draw[arr] (c81) -- (r725);
\draw[arr] (c31) -- (r307);
\draw[arr] (c31) -- (r016);
\draw[arr] (c660) -- (r016);
\draw[arr] (r725) -- (c104);
\draw[arr] (r725) -- (c92);
\draw[arr] (r307) -- (c95);
\draw[arr] (r016) -- (c103);
\draw[arr] (c95) -- (r760);
\draw[arr] (c2a) -- (r760);
\draw[arr] (c92) -- (r771);
\draw[arr] (c103) -- (r289);
\draw[arr] (c75) -- (r289);
\draw[arr] (r771) -- (c85);
\draw[arr] (r760) -- (c8a);
\draw[arr] (c3a) -- (r286);
\draw[arr] (c1a) -- (r286);
\draw[arr] (c29) -- (r286);
\draw[arr] (r286) -- (c4a);
\draw[arr] (r286) -- (c80a);
\draw[arr] (r286) -- (c167);
\draw[arr] (c167) -- (r1384);
\draw[arr] (r1384) -- (c190);
\draw[arr] (r1384) -- (c11a);
\draw[arr] (c9a) -- (r761);
\draw[arr] (c85) -- (r761);
\draw[arr] (c2b) -- (r756);
\draw[arr] (r761) -- (c1c);
\draw[arr] (r756) -- (c8b);
\draw[arr] (r756) -- (c354);
\draw[arr] (c354) -- (r1068);
\draw[arr] (r1068) -- (c111);
\draw[arr] (c111) -- (r1015);
\draw[arr] (r1015) -- (c118);
\draw[arr] (c118) -- (r1067);
\draw[arr] (r1067) -- (c279);
\draw[arr] (r1067) -- (c231);
\draw[arr] (c231) -- (r1529);
\draw[arr] (r1529) -- (c199);
\draw[arr] (c199) -- (r1056);
\draw[arr] (r1056) -- (c117);
\draw[arr] (c117) -- (r1128);
\draw[arr] (c343) -- (r7226);
\draw[arr] (c14a) -- (r7226);
\draw[arr] (r7226) -- (c37);
\draw[arr] (r7226) -- (c342);
\draw[arr] (c664) -- (r2729);
\draw[arr] (r2729) -- (c101);
\draw[arr] (c2718) -- (r4026);
\draw[arr] (r4026) -- (c6195);
\draw[arr] (c6195) -- (r4731);
\draw[arr] (c14b) -- (r4731);
\draw[arr] (r4731) -- (c1e);
\draw[arr] (r4731) -- (c5239);
\draw[arr] (c5239) -- (r4732);
\draw[arr] (r4732) -- (c5516);
\draw[arr] (c5516) -- (r4857);
\draw[arr] (c14c) -- (r4857);
\draw[arr] (c11c) -- (r4857);
\draw[arr] (r4857) -- (c5515);
\draw[arr] (r4857) -- (c1f);
\draw[arr] (c5515) -- (r2141);
\draw[arr] (r2141) -- (c385);
\draw[arr] (c4b) -- (r1768);
\draw[arr] (r1768) -- (c262);
\draw[arr] (r1768) -- (c3b);
\draw[arr] (r1128) -- (c130);
\draw[arr] (c130) -- (r181);
\draw[arr] (r181) -- (c1j);
\draw[arr] (r181) -- (c20);
\draw[arr] (c20) -- (r3876);
\draw[arr] (blank1) -- (r3876);
\draw[arr] (r3876) -- (c2188);
\draw[arr] (r3876) -- (c2c);
% ---------- curved connectors
\draw[arr] (c31) .. controls (1054.3,170.6) and (1018.7,196.7) .. (r725);
\draw[arr] (r760) .. controls (1130,585) and (1030,625) .. (c85);
\draw[arr] (r289) .. controls (1940,572) and (2100,590) .. (c29);
\draw[arr] (r289) .. controls (1735,610) and (1710,670) .. (1706,750) .. controls (1704,790) and (1710.5,830) .. (1710.5,870) -- (1710.5,2300) .. controls (1710.5,2400) and (1672,2475) .. (c13);
\draw[arr] (c85) .. controls (1010,783) and (1090,827) .. (r756);
\draw[arr] (c85) .. controls (948,820) and (958,920) .. (959,1060) -- (959,1530) .. controls (960,1620) and (980,1700) .. (r1067);
\draw[arr] (r761) .. controls (620,886) and (445,920) .. (c227);
\draw[arr] (r761) -- (812.5,1500) .. controls (812.5,1700) and (825,1790) .. (c279);
\draw[arr] (r1068) .. controls (1267,1330) and (1265,1500) .. (c118);
\draw[arr] (c227) .. controls (440,1120) and (490,1160) .. (r7226);
\draw[arr] (c1b) .. controls (712,1095) and (640,1160) .. (r7226);
\draw[arr] (r7226) .. controls (350,1200) and (110,1208) .. (c9b);
\draw[arr] (c37) .. controls (505,1410) and (470,1450) .. (r2729);
\draw[arr] (r2729) .. controls (320,1530) and (230,1556) .. (c2718);
\draw[arr] (r4026) .. controls (225,1825) and (265,1855) .. (c1d);
\draw[arr] (c11b) .. controls (150,2248) and (205,2280) .. (r4732);
\draw[arr] (r2141) .. controls (650,2943) and (870,2975) .. (c1g);
\draw[arr] (c385) .. controls (465,3200) and (540,3232) .. (r1768);
\draw[arr] (c80b) .. controls (822,3170) and (770,3215) .. (r1768);
\draw[arr] (r1768) .. controls (580,3306) and (550,3345) .. (c1h);
\draw[arr] (c262) .. controls (690,3515) and (850,3550) .. (r1128);
\draw[arr] (r1128) .. controls (1125,3622) and (1163,3665) .. (c1i);
\draw[arr] (c14d) .. controls (942,3802) and (975,3848) .. (r181);
\draw[arr] (c13) -- (1586.7,2850) -- (1586.7,3880) .. controls (1586.7,3990) and (1548,4080) .. (r3876);
\draw[arr] (r3876) .. controls (1430,4187) and (1385,4225) .. (blank2);
\end{tikzpicture}
\end{document}
